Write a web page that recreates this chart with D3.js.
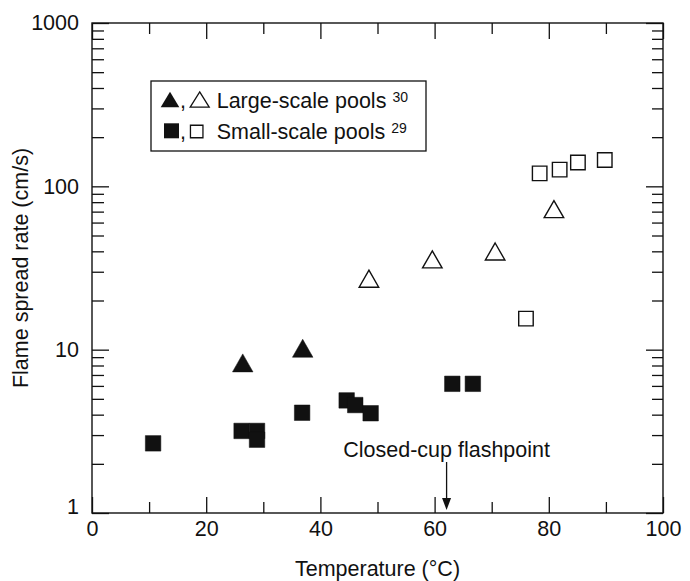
<!DOCTYPE html>
<html>
<head>
<meta charset="utf-8">
<script src="https://cdn.jsdelivr.net/npm/d3@7"></script>
<style>
  html, body { margin: 0; padding: 0; background: #fff; }
  svg { display: block; font-family: "Liberation Sans", Arial, Helvetica, sans-serif; }
</style>
</head>
<body>
<svg id="chart" width="690" height="581"></svg>
<script>
// ---- data ----
const largeFilled = [[26.4, 8.3], [36.9, 10.2]];
const largeOpen   = [[48.5, 27.2], [59.6, 35.7], [70.6, 39.9], [80.9, 72.5]];
const smallFilled = [[10.7, 2.67], [26.2, 3.18], [28.9, 3.18], [28.9, 2.81], [36.8, 4.11],
                     [44.6, 4.89], [46.1, 4.58], [48.8, 4.08], [63.1, 6.18], [66.7, 6.18]];
const smallOpen   = [[76.0, 15.5], [78.4, 120], [81.9, 126.5], [85.1, 140], [89.8, 145]];
const xMajorTicks = [0, 20, 40, 60, 80, 100];
const xMinorTicks = [10, 30, 50, 70, 90];
const yMajorTicks = [1, 10, 100, 1000];
const flashpoint = 62.1;
const flashLabel = "Closed-cup flashpoint";
const legendLabels = ["Large-scale pools", "Small-scale pools"];
const legendRefs = ["30", "29"];
const xTitle = "Temperature (°C)";
const yTitle = "Flame spread rate (cm/s)";

// ---- layout ----
const svg = d3.select("#chart");
const m = { left: 92, right: 27, top: 23, bottom: 68 };
const W = 690, H = 581;
const iw = W - m.left - m.right, ih = H - m.top - m.bottom;
const ink = "#111";
const fs = 21.5;

const x = d3.scaleLinear().domain([0, 100]).range([0, iw]);
const y = d3.scaleLog().domain([1, 1000]).range([ih, 0]);
const yMinorTicks = y.ticks().filter(v => !yMajorTicks.includes(v));

const g = svg.append("g").attr("transform", `translate(${m.left},${m.top})`);

function styleAxis(sel) {
  sel.select(".domain").remove();
  sel.selectAll("line").attr("stroke", ink).attr("stroke-width", 1.3);
  sel.selectAll("text").attr("fill", ink).attr("font-size", fs).attr("font-family", "Liberation Sans, Arial, sans-serif");
}

// bottom
g.append("g").attr("transform", `translate(0,${ih})`)
  .call(d3.axisBottom(x).tickValues(xMajorTicks).tickSize(-16).tickPadding(8).tickFormat(d3.format("d")))
  .call(styleAxis);
g.append("g").attr("transform", `translate(0,${ih})`)
  .call(d3.axisBottom(x).tickValues(xMinorTicks).tickSize(-11).tickFormat(""))
  .call(styleAxis);
// top
g.append("g")
  .call(d3.axisTop(x).tickValues(xMajorTicks).tickSize(-16).tickFormat(""))
  .call(styleAxis);
g.append("g")
  .call(d3.axisTop(x).tickValues(xMinorTicks).tickSize(-11).tickFormat(""))
  .call(styleAxis);
// left
const yl = g.append("g")
  .call(d3.axisLeft(y).tickValues(yMajorTicks).tickSize(-17).tickPadding(13).tickFormat(d3.format("d")))
  .call(styleAxis);
yl.selectAll(".tick").filter(d => d === 1).select("text").attr("dy", "0.0em");
g.append("g")
  .call(d3.axisLeft(y).tickValues(yMinorTicks).tickSize(-12).tickFormat(""))
  .call(styleAxis);
// right
g.append("g").attr("transform", `translate(${iw},0)`)
  .call(d3.axisRight(y).tickValues(yMajorTicks).tickSize(-17).tickFormat(""))
  .call(styleAxis);
g.append("g").attr("transform", `translate(${iw},0)`)
  .call(d3.axisRight(y).tickValues(yMinorTicks).tickSize(-11).tickFormat(""))
  .call(styleAxis);

// frame
g.append("rect").attr("width", iw).attr("height", ih)
  .attr("fill", "none").attr("stroke", ink).attr("stroke-width", 1.4);

// ---- marker shapes (centered on bbox) ----
function squarePath(s) { const h = s / 2; return `M${-h},${-h}H${h}V${h}H${-h}Z`; }
function triPath(w, hgt) { const a = w / 2, b = hgt / 2; return `M0,${-b}L${a},${b}L${-a},${b}Z`; }

function plot(data, path, filled) {
  g.append("g").selectAll("path").data(data).join("path")
    .attr("transform", d => `translate(${x(d[0])},${y(d[1])})`)
    .attr("d", path)
    .attr("fill", filled ? ink : "none")
    .attr("stroke", ink)
    .attr("stroke-width", filled ? 0.5 : 1.4)
    .attr("stroke-linejoin", "miter");
}
plot(smallFilled, squarePath(15.5), true);
plot(smallOpen, squarePath(14.5), false);
plot(largeFilled, triPath(20.5, 18), true);
plot(largeOpen, triPath(19.5, 17), false);

// ---- annotation ----
const ax = x(flashpoint);
const ann = g.append("g");
ann.append("line").attr("x1", ax).attr("x2", ax)
  .attr("y1", y(1) - 51).attr("y2", y(1) - 12)
  .attr("stroke", ink).attr("stroke-width", 1.3);
ann.append("path")
  .attr("d", `M${ax - 4.5},${y(1) - 15}L${ax + 4.5},${y(1) - 15}L${ax},${y(1) - 3}Z`)
  .attr("fill", ink);
ann.append("text").attr("x", ax).attr("y", y(1) - 56)
  .attr("text-anchor", "middle").attr("font-size", fs).attr("fill", ink).text(flashLabel);

// ---- legend ----
const lg = svg.append("g").attr("transform", "translate(151,81)");
lg.append("rect").attr("width", 275).attr("height", 70)
  .attr("fill", "#fff").attr("stroke", ink).attr("stroke-width", 1.3);
const rows = [
  { base: 26.5, shapeA: triPath(18.6, 15.6), shapeB: triPath(19, 15.2), ax: 19, bx: 48.7, cy: 18.5, by: 18.5 },
  { base: 57.5, shapeA: squarePath(15), shapeB: squarePath(12.5), ax: 20.5, bx: 45.7, cy: 49.8, by: 50.5 }
];
rows.forEach((r, i) => {
  lg.append("path").attr("transform", `translate(${r.ax},${r.cy})`).attr("d", r.shapeA).attr("fill", ink);
  lg.append("text").attr("x", 29).attr("y", r.base).attr("font-size", fs).attr("fill", ink).text(",");
  lg.append("path").attr("transform", `translate(${r.bx},${r.by})`).attr("d", r.shapeB)
    .attr("fill", "none").attr("stroke", ink).attr("stroke-width", 1.3);
  const t = lg.append("text").attr("x", 65.7).attr("y", r.base).attr("font-size", fs).attr("fill", ink);
  t.append("tspan").text(legendLabels[i] + " ");
  t.append("tspan").attr("font-size", 14).attr("dy", -6).text(legendRefs[i]);
});

// ---- axis titles ----
svg.append("text").attr("x", m.left + iw / 2).attr("y", 576)
  .attr("text-anchor", "middle").attr("font-size", fs).attr("fill", ink).text(xTitle);
svg.append("text").attr("transform", `translate(28,${m.top + ih / 2}) rotate(-90)`)
  .attr("text-anchor", "middle").attr("font-size", fs).attr("fill", ink).text(yTitle);
</script>
</body>
</html>
